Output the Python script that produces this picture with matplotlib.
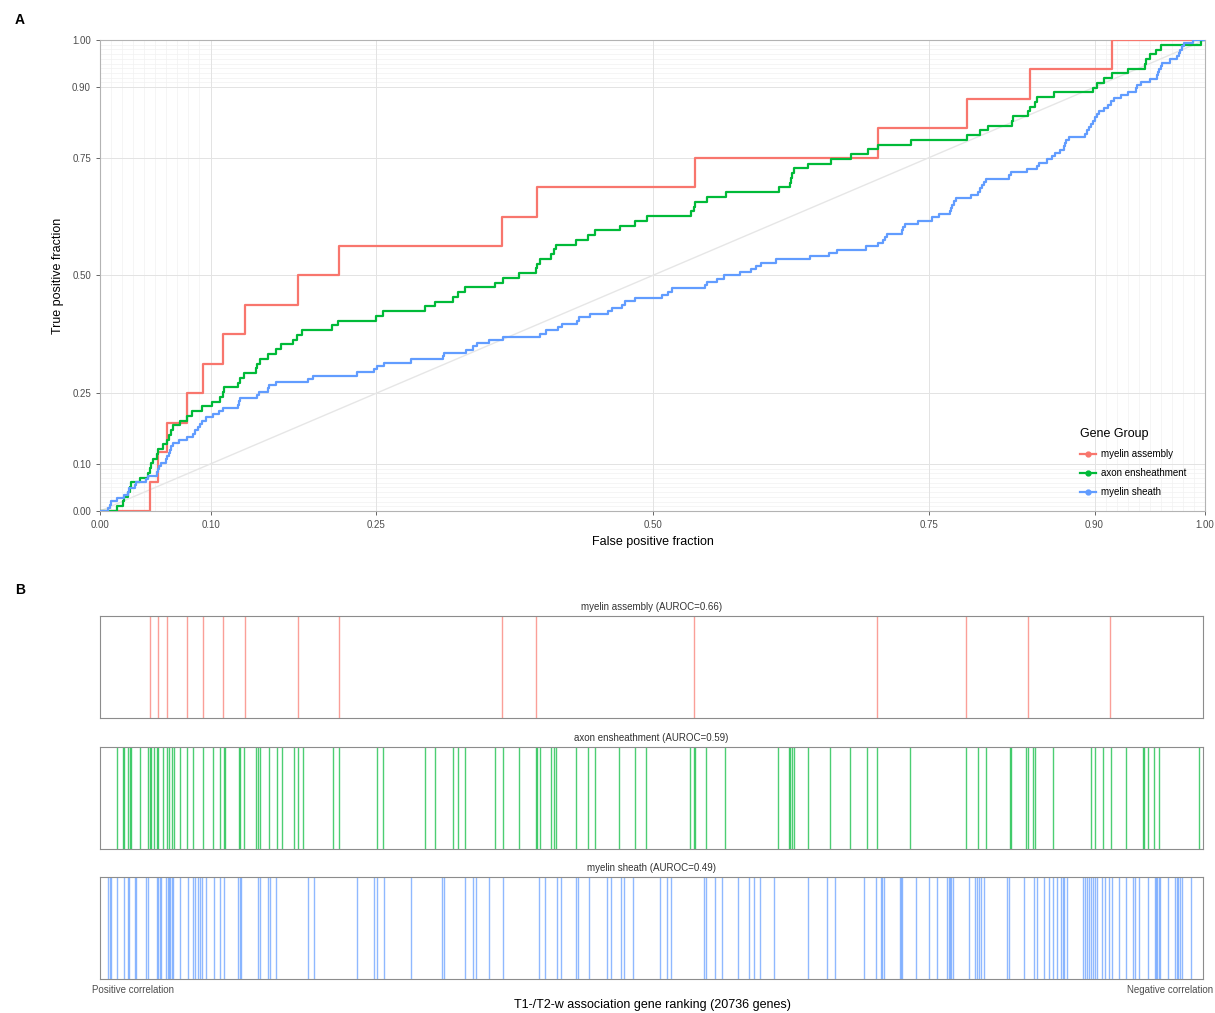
import numpy as np
import matplotlib
matplotlib.use("Agg")
import matplotlib.pyplot as plt
from matplotlib.lines import Line2D

plt.rcParams['font.family'] = ['Liberation Sans', 'DejaVu Sans']

N_GENES = 20736
groups = ['myelin assembly', 'axon ensheathment', 'myelin sheath']
colors = ['#F8766D', '#00BA38', '#619CFF']
auroc = [0.66, 0.59, 0.49]

# rank positions of the genes of each group (1 = strongest positive correlation)
ranks_assembly = [940, 1090, 1260, 1636, 1936, 2312, 2726, 3722, 4493, 7557,
                  8197, 11167, 14607, 16280, 17446, 18988]

ranks_ensheath = [320, 432, 457, 532, 558, 583, 746, 908, 934, 959, 1010, 1072,
                  1096, 1184, 1260, 1297, 1348, 1386, 1510, 1636, 1748, 1936,
                  2124, 2262, 2326, 2350, 2613, 2638, 2713, 2938, 2965, 3014,
                  3177, 3328, 3416, 3641, 3717, 3816, 4380, 4493, 5202, 5326,
                  6116, 6292, 6642, 6730, 6868, 7420, 7571, 7871, 8197, 8221,
                  8272, 8484, 8535, 8573, 8949, 9174, 9311, 9763, 10052, 10274,
                  11097, 11161, 11186, 11398, 11750, 12741, 12953, 12977, 13004,
                  13041, 13304, 13729, 14094, 14420, 14607, 15233, 16280, 16506,
                  16657, 17108, 17132, 17408, 17446, 17546, 17583, 17911, 18625,
                  18711, 18851, 19001, 19288, 19602, 19627, 19702, 19815, 19915,
                  20655]

ranks_sheath = [145, 182, 207, 320, 457, 521, 545, 658, 682, 870, 908, 1072,
                1096, 1122, 1147, 1246, 1273, 1297, 1322, 1348, 1372, 1498, 1649,
                1748, 1786, 1848, 1886, 1923, 1998, 2138, 2250, 2326, 2600, 2626,
                2651, 2965, 3002, 3164, 3190, 3314, 3916, 4018, 4832, 5151, 5202,
                5339, 5841, 6430, 6467, 6868, 7007, 7069, 7308, 7571, 8248, 8360,
                8586, 8661, 8949, 8986, 9188, 9526, 9601, 9789, 9851, 10026,
                10534, 10660, 10735, 11350, 11387, 11562, 11699, 12000, 12201,
                12301, 12402, 12665, 13305, 13668, 13818, 14358, 14583, 14683,
                14707, 14745, 15034, 15059, 15083, 15335, 15591, 15730, 15929,
                15956, 15980, 16004, 16042, 16332, 16456, 16493, 16531, 16568,
                16619, 17046, 17084, 17371, 17559, 17610, 17747, 17847, 17911,
                17997, 18072, 18099, 18123, 18174, 18475, 18512, 18550, 18588,
                18625, 18663, 18700, 18738, 18838, 18900, 18964, 19026, 19152,
                19288, 19426, 19464, 19528, 19702, 19828, 19853, 19877, 19904,
                19928, 20078, 20216, 20242, 20266, 20304, 20342, 20505]

all_ranks = [ranks_assembly, ranks_ensheath, ranks_sheath]

roc_breaks = [0, 0.1, 0.25, 0.5, 0.75, 0.9, 1.0]
roc_minor = sorted(set(np.round(np.r_[np.arange(0, 0.1, 0.01), np.arange(0.9, 1.0, 0.01)], 2)))


def roc_curve(ranks, n_total):
    r = np.sort(np.asarray(ranks))
    n = len(r)
    fpf = (r - np.arange(1, n + 1)) / (n_total - n)
    xs, ys = [0.0], [0.0]
    for i, f in enumerate(fpf):
        xs += [f, f]
        ys += [i / n, (i + 1) / n]
    xs.append(1.0)
    ys.append(1.0)
    return np.array(xs), np.array(ys)


fig = plt.figure(figsize=(12.15, 10.13), dpi=100)

# ---- panel A: ROC curves
ax = fig.add_axes([100 / 1215, 1 - 511 / 1013, 1105 / 1215, 471 / 1013])
for v in roc_minor:
    ax.axvline(v, color='#F2F2F2', lw=0.5, zorder=0)
    ax.axhline(v, color='#F2F2F2', lw=0.5, zorder=0)
for v in roc_breaks:
    ax.axvline(v, color='#E3E3E3', lw=0.7, zorder=0)
    ax.axhline(v, color='#E3E3E3', lw=0.7, zorder=0)
ax.plot([0, 1], [0, 1], color='#E6E6E6', lw=1.0, zorder=1)

for ranks, col in zip(all_ranks, colors):
    x, y = roc_curve(ranks, N_GENES)
    ax.plot(x, y, color=col, lw=1.6, zorder=3)

ax.set_xlim(0, 1)
ax.set_ylim(0, 1)
ax.set_xticks(roc_breaks)
ax.set_yticks(roc_breaks)
ax.set_xticklabels([f'{b:.2f}' for b in roc_breaks])
ax.set_yticklabels([f'{b:.2f}' for b in roc_breaks])
ax.tick_params(labelsize=7, colors='#4D4D4D', length=3, width=0.6)
for s in ax.spines.values():
    s.set_color('#B3B3B3')
    s.set_linewidth(0.8)
ax.set_xlabel('False positive fraction', fontsize=9, labelpad=4)
ax.set_ylabel('True positive fraction', fontsize=9, labelpad=6)

handles = [Line2D([], [], color=c, lw=1.6, marker='o', markersize=3.5) for c in colors]
leg = ax.legend(handles, groups, title='Gene Group', loc='upper left',
                bbox_to_anchor=(1071 / 1215, 1 - 419 / 1013),
                bbox_transform=fig.transFigure, frameon=False,
                fontsize=7, title_fontsize=9, handlelength=1.7,
                handletextpad=0.5, labelspacing=0.95)
leg._legend_box.align = 'left'

fig.text(15 / 1215, 1 - 20 / 1013, 'A', fontsize=10, fontweight='bold', va='center')
fig.text(15 / 1215, 1 - 590 / 1013, 'B', fontsize=10, fontweight='bold', va='center')

# ---- panel B: barcode plots
tops = [616, 747, 877]
for ranks, col, name, auc, top in zip(all_ranks, colors, groups, auroc, tops):
    bx = fig.add_axes([100 / 1215, 1 - (top + 102) / 1013, 1103 / 1215, 102 / 1013])
    bx.vlines(ranks, 0, 1, color=col, lw=1.0, alpha=0.7)
    bx.set_xlim(0, N_GENES)
    bx.set_ylim(0, 1)
    bx.set_xticks([])
    bx.set_yticks([])
    for s in bx.spines.values():
        s.set_color('#8C8C8C')
        s.set_linewidth(0.8)
    bx.set_title(f'{name} (AUROC={auc:.2f})', fontsize=7, color='#333333', pad=4)

fig.text(92 / 1215, 1 - 990 / 1013, 'Positive correlation', fontsize=7,
         color='#4D4D4D', ha='left', va='center')
fig.text(1213 / 1215, 1 - 990 / 1013, 'Negative correlation', fontsize=7,
         color='#4D4D4D', ha='right', va='center')
fig.text(652 / 1215, 1 - 1005 / 1013, f'T1-/T2-w association gene ranking ({N_GENES} genes)',
         fontsize=9, ha='center', va='center')

fig.savefig('out.png', dpi=100)
